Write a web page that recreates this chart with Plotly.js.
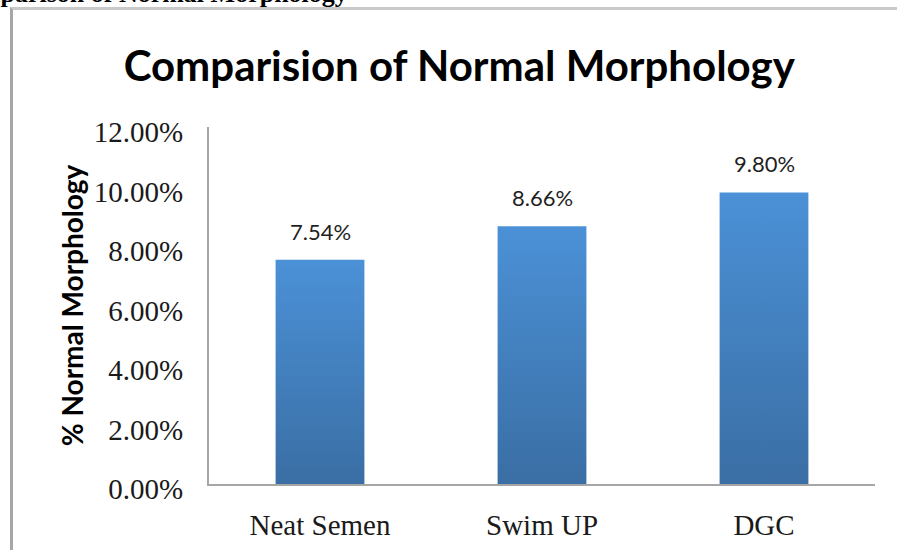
<!DOCTYPE html>
<html>
<head>
<meta charset="utf-8">
<script src="https://cdn.plot.ly/plotly-3.0.1.min.js"></script>
<style>
  html, body { margin: 0; padding: 0; background: #fff; overflow: hidden; }
  #wrap { position: relative; width: 897px; height: 550px; overflow: hidden; }
  #doctitle { position: absolute; left: -53px; top: -19px; font: bold 26px "Liberation Serif", "Times New Roman", serif; line-height: 26px; color: #000; white-space: nowrap; }
  #frame { position: absolute; left: 10px; top: 7px; width: 950px; height: 600px; border-top: 3px solid #c9c9c9; border-left: 3px solid #a6a6a6; box-sizing: border-box; }
  #chart { position: absolute; left: 0; top: 0; width: 897px; height: 550px; }
</style>
</head>
<body>
<div id="wrap">
  <div id="doctitle">Comparison of Normal Morphology</div>
  <div id="frame"></div>
  <div id="chart"></div>
</div>
<script>
const categories = ['Neat Semen', 'Swim UP', 'DGC'];
const values = [0.0754, 0.0866, 0.0980];
const valueLabels = ['7.54%', '8.66%', '9.80%'];
const yTickValues = [0, 0.02, 0.04, 0.06, 0.08, 0.10, 0.12];

const trace = {
  type: 'bar',
  x: categories,
  y: values,
  width: 0.4,
  marker: { color: '#4280c2', line: { width: 0 } },
  hoverinfo: 'none'
};

const annotations = categories.map((c, i) => ({
  x: c, y: values[i], xref: 'x', yref: 'y',
  text: valueLabels[i], showarrow: false,
  yanchor: 'bottom', yshift: 13,
  font: { family: 'Lato, "Liberation Sans", sans-serif', size: 22, color: '#1f1f1f' }
}));

const layout = {
  width: 897, height: 550,
  margin: { l: 209, r: 22, t: 127, b: 66 },
  paper_bgcolor: 'rgba(0,0,0,0)',
  plot_bgcolor: 'rgba(0,0,0,0)',
  showlegend: false,
  title: {
    text: 'Comparision of Normal Morphology',
    x: 0.512, xanchor: 'center', xref: 'container',
    y: 1 - 66 / 550, yanchor: 'middle', yref: 'container',
    font: { family: 'Lato, "Liberation Sans", sans-serif', size: 42, color: '#000', weight: 'bold' }
  },
  xaxis: {
    showline: true, linecolor: '#a6a6a6', linewidth: 2,
    ticks: '', showgrid: false, zeroline: false,
    ticklabelstandoff: 14,
    tickfont: { family: '"Liberation Serif", "Times New Roman", serif', size: 29, color: '#1a1a1a' },
    fixedrange: true
  },
  yaxis: {
    range: [0, 0.12],
    tickvals: yTickValues,
    tickformat: '.2%',
    showline: true, linecolor: '#a6a6a6', linewidth: 2,
    ticks: '', showgrid: false, zeroline: false,
    ticklabelstandoff: 18,
    ticklabelshift: 5,
    tickfont: { family: '"Liberation Serif", "Times New Roman", serif', size: 29, color: '#1a1a1a' },
    title: {
      text: '% Normal Morphology',
      standoff: 2,
      font: { family: 'Lato, "Liberation Sans", sans-serif', size: 28, color: '#000', weight: 'bold' }
    },
    fixedrange: true
  },
  annotations: annotations
};

Plotly.newPlot('chart', [trace], layout, { displayModeBar: false, staticPlot: true }).then(function (gd) {
  const svg = gd.querySelector('svg.main-svg');
  const ns = 'http://www.w3.org/2000/svg';
  let defs = svg.querySelector('defs');
  if (!defs) { defs = document.createElementNS(ns, 'defs'); svg.insertBefore(defs, svg.firstChild); }
  const grad = document.createElementNS(ns, 'linearGradient');
  grad.setAttribute('id', 'barGrad');
  grad.setAttribute('x1', '0'); grad.setAttribute('y1', '0');
  grad.setAttribute('x2', '0'); grad.setAttribute('y2', '1');
  [['0', '#4b91d7'], ['1', '#3a6ea4']].forEach(function (s) {
    const st = document.createElementNS(ns, 'stop');
    st.setAttribute('offset', s[0]);
    st.setAttribute('stop-color', s[1]);
    grad.appendChild(st);
  });
  defs.appendChild(grad);
  gd.querySelectorAll('.barlayer .point path').forEach(function (p) {
    p.style.fill = 'url(#barGrad)';
  });
});
</script>
</body>
</html>
